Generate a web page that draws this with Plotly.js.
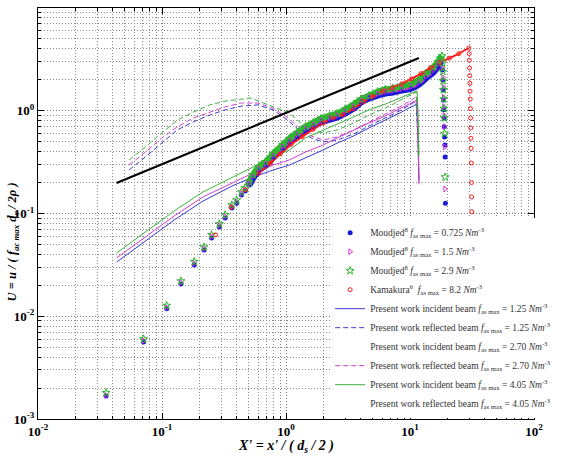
<!DOCTYPE html>
<html><head><meta charset="utf-8">
<script src="https://cdn.plot.ly/plotly-3.0.1.min.js"></script>
<style>html,body{margin:0;padding:0;background:#fff}#chart{width:564px;height:457px}</style>
</head><body><div id="chart"></div>
<script>
// ---- data ----
const slopeX = [0.043, 11.8];
const slopeY = [0.198, 3.26];

const moudjed0725X = [0.0354,0.071,0.109,0.142,0.182,0.218,0.251,0.29,0.323,0.366,0.40,0.437,0.469,0.504,0.541,0.603,0.683,0.787,0.94,1.064,1.23,1.44,1.66,1.92,2.25,2.59,2.99,3.51,4.05,4.67,5.48,6.32,7.29,8.55,10.2,11.8,13.4,15.4,16.8,17.8,18.2,18.4,18.5,18.6,18.7,18.8,18.9,19.0,19.1,19.2,19.3];
const moudjed0725Y = [0.00167,0.0056,0.0118,0.0206,0.0315,0.0441,0.0578,0.074,0.0904,0.113,0.126,0.151,0.166,0.189,0.222,0.265,0.296,0.355,0.434,0.497,0.568,0.65,0.711,0.78,0.83,0.87,0.95,1.06,1.22,1.33,1.42,1.49,1.52,1.59,1.66,1.82,2.08,2.38,2.73,2.92,2.49,1.99,1.59,1.27,1.02,0.85,0.70,0.556,0.464,0.355,0.126];

const moudjed15X = [0.0354,0.071,0.109,0.142,0.182,0.218,0.251,0.29,0.323,0.366,0.40,0.437,0.469,0.504,0.541,0.603,0.683,0.787,0.94,1.064,1.23,1.44,1.66,1.92,2.25,2.59,2.99,3.51,4.05,4.67,5.48,6.32,7.29,8.55,10.2,11.8,13.4,15.4,16.8,17.9,18.3,18.5,18.6,18.7,18.8,18.9,19.0,19.1,19.2];
const moudjed15Y = [0.0017,0.0058,0.0122,0.0213,0.0327,0.0457,0.060,0.077,0.094,0.117,0.131,0.157,0.172,0.196,0.23,0.275,0.307,0.368,0.45,0.515,0.59,0.675,0.74,0.81,0.86,0.905,0.99,1.10,1.27,1.38,1.47,1.55,1.58,1.65,1.73,1.9,2.17,2.5,2.85,3.1,2.6,2.1,1.7,1.35,1.1,0.9,0.7,0.444,0.173];

const moudjed29X = [0.0354,0.071,0.109,0.142,0.182,0.218,0.251,0.29,0.323,0.366,0.40,0.437,0.469,0.504,0.541,0.603,0.683,0.787,0.94,1.064,1.23,1.44,1.66,1.92,2.25,2.59,2.99,3.51,4.05,4.67,5.48,6.32,7.29,8.55,10.2,11.8,13.4,15.4,16.8,17.6,18.1,18.3,18.4,18.5,18.6,18.7,18.8,18.9,19.0,19.2];
const moudjed29Y = [0.0018,0.0060,0.0127,0.022,0.034,0.047,0.062,0.079,0.097,0.121,0.135,0.162,0.178,0.203,0.238,0.285,0.318,0.382,0.467,0.535,0.612,0.70,0.766,0.84,0.895,0.94,1.03,1.15,1.30,1.40,1.53,1.61,1.65,1.73,1.82,2.0,2.3,2.65,3.0,3.25,3.41,2.9,2.4,1.95,1.6,1.3,1.05,0.85,0.60,0.226];

const kamakuraX = [0.27,0.36,0.47,0.6,0.75,0.9,1.1,1.35,1.65,2.0,2.4,2.9,3.5,4.2,5.0,6.0,7.2,8.6,10.3,12.3,14.6,17.4,20.8,24.8,29.8,30.0,30.1,30.2,30.3,30.4,30.5,30.6,30.7,30.8,30.9,31.0,31.1,31.2,31.3,31.4,31.5];
const kamakuraY = [0.062,0.115,0.17,0.245,0.31,0.38,0.47,0.56,0.66,0.76,0.85,0.92,1.05,1.22,1.38,1.55,1.68,1.83,2.05,2.3,2.62,2.95,3.25,3.6,4.08,3.6,3.1,2.6,2.2,1.85,1.55,1.3,1.05,0.85,0.68,0.54,0.43,0.31,0.2,0.145,0.104];

const incident125X = [0.0431,0.0736,0.1255,0.214,0.366,0.522,0.787,1.064,1.44,1.99,2.59,3.51,4.67,6.32,8.55,10.2,11.4,11.6,11.8];
const incident125Y = [0.0337,0.054,0.0865,0.132,0.185,0.222,0.265,0.296,0.347,0.415,0.485,0.568,0.68,0.81,0.97,1.09,1.16,0.58,0.212];
const reflected125X = [0.0543,0.0736,0.0995,0.1324,0.179,0.243,0.323,0.437,0.592,0.787,1.03,1.27,1.60,1.99,2.59,3.51,4.67,6.32,8.55,10.2,11.2,11.6,11.8];
const reflected125Y = [0.265,0.355,0.485,0.65,0.78,0.91,1.02,1.11,1.14,1.02,0.81,0.65,0.543,0.497,0.519,0.594,0.711,0.85,1.02,1.16,1.24,0.519,0.222];

const incident270X = [0.0431,0.0736,0.1255,0.214,0.366,0.522,0.787,1.064,1.44,1.99,2.59,3.51,4.67,6.32,8.55,10.2,11.4,11.6,11.8];
const incident270Y = [0.037,0.059,0.0946,0.145,0.198,0.242,0.296,0.332,0.397,0.464,0.543,0.65,0.76,0.89,1.06,1.19,1.27,0.65,0.203];
const reflected270X = [0.0543,0.0736,0.0995,0.1324,0.179,0.243,0.323,0.437,0.592,0.787,1.01,1.27,1.60,1.99,2.59,3.51,4.67,6.32,8.55,10.2,11.2,11.6,11.8];
const reflected270Y = [0.296,0.397,0.543,0.695,0.85,0.97,1.09,1.19,1.19,1.06,0.87,0.695,0.568,0.519,0.556,0.65,0.78,0.93,1.11,1.27,1.36,0.519,0.189];

const incident405X = [0.0431,0.0736,0.1255,0.214,0.366,0.522,0.787,1.064,1.44,1.99,2.59,3.51,4.67,6.32,8.55,10.2,11.4,11.6,11.75,11.8];
const incident405Y = [0.0413,0.066,0.106,0.162,0.222,0.277,0.355,0.415,0.543,0.65,0.743,0.87,1.02,1.16,1.36,1.49,1.56,1.02,0.65,0.355];
const reflected405X = [0.0543,0.0736,0.0995,0.1324,0.179,0.243,0.323,0.437,0.522,0.658,0.846,1.064,1.34,1.66,1.99,2.59,3.51,4.67,6.32,8.55,10.2,11.2,11.6,11.8];
const reflected405Y = [0.332,0.444,0.607,0.81,0.97,1.14,1.24,1.30,1.33,1.19,1.06,0.95,0.743,0.65,0.607,0.65,0.76,0.91,1.06,1.27,1.42,1.52,0.81,0.371];

const xTickVals = [0.01, 0.1, 1, 10, 100];
const xTickText = ['10<sup>-2</sup>','10<sup>-1</sup>','10<sup>0</sup>','10<sup>1</sup>','10<sup>2</sup>'];
const yTickVals = [0.001, 0.01, 0.1, 1, 10];
const yTickText = ['10<sup>-3</sup>','10<sup>-2</sup>','10<sup>-1</sup>','10<sup>0</sup>','10<sup>1</sup>'];

const legendNames = [
  'Moudjed<sup>8</sup> <i>f</i><sub>as max</sub> = 0.725 <i>Nm</i><sup>-3</sup>',
  'Moudjed<sup>8</sup> <i>f</i><sub>as max</sub> = 1.5 <i>Nm</i><sup>-3</sup>',
  'Moudjed<sup>8</sup> <i>f</i><sub>as max</sub> = 2.9 <i>Nm</i><sup>-3</sup>',
  'Kamakura<sup>6</sup>  <i>f</i><sub>as max</sub> = 8.2 <i>Nm</i><sup>-3</sup>',
  'Present work incident beam <i>f</i><sub>as max</sub> = 1.25 <i>Nm</i><sup>-3</sup>',
  'Present work reflected beam <i>f</i><sub>as max</sub> = 1.25 <i>Nm</i><sup>-3</sup>',
  'Present work incident beam <i>f</i><sub>as max</sub> = 2.70 <i>Nm</i><sup>-3</sup>',
  'Present work reflected beam <i>f</i><sub>as max</sub> = 2.70 <i>Nm</i><sup>-3</sup>',
  'Present work incident beam <i>f</i><sub>as max</sub> = 4.05 <i>Nm</i><sup>-3</sup>',
  'Present work reflected beam <i>f</i><sub>as max</sub> = 4.05 <i>Nm</i><sup>-3</sup>'
];

// ---- styling ----
const BLUE = '#1a1ad6', MAG = '#d633d6', GREEN = '#2db82d', RED = '#ff1a1a';
const LBLUE = '#3a3ad0', LMAG = '#d040d0', LGREEN = '#40b040';
const SERIF = 'Liberation Serif, Times New Roman, serif';

function bandPart(xs, ys) {
  let k = 0; ys.forEach((v, i) => { if (v > ys[k]) k = i; });
  const s = xs.findIndex(v => v >= 0.5);
  return {x: xs.slice(s, k + 1), y: ys.slice(s, k + 1)};
}

const traces = [];
function line(x, y, color, dash, name, rank, show) {
  traces.push({x, y, type:'scatter', mode:'lines', name, legendrank: rank, showlegend: show,
    line:{color, width:1, dash: dash ? '5px,3px' : 'solid'}, hoverinfo:'skip'});
}
line(incident125X, incident125Y, LBLUE, false, legendNames[4], 5, true);
line(reflected125X, reflected125Y, LBLUE, true, legendNames[5], 6, true);
line(incident270X, incident270Y, LMAG, false, legendNames[6], 7, false);
line(reflected270X, reflected270Y, LMAG, true, legendNames[7], 8, true);
line(incident405X, incident405Y, LGREEN, false, legendNames[8], 9, true);
line(reflected405X, reflected405Y, LGREEN, true, legendNames[9], 10, false);
// legend entries drawn without a sample line, as in the reference
traces.push({x:[null], y:[null], type:'scatter', mode:'lines', name: legendNames[6], legendrank:7,
  line:{color:'rgba(0,0,0,0)', width:1}});
traces.push({x:[null], y:[null], type:'scatter', mode:'lines', name: legendNames[9], legendrank:10,
  line:{color:'rgba(0,0,0,0)', width:1}});

traces.push({x: slopeX, y: slopeY, type:'scatter', mode:'lines', showlegend:false,
  line:{color:'#000', width:2}});

const bands = [
  [moudjed0725X, moudjed0725Y, BLUE, 7],
  [moudjed15X, moudjed15Y, MAG, 5],
  [moudjed29X, moudjed29Y, GREEN, 6],
];
bands.forEach(([xs, ys, c, w]) => {
  const b = bandPart(xs, ys);
  traces.push({x: b.x, y: b.y, type:'scatter', mode:'lines', showlegend:false,
    line:{color:c, width:w, shape:'spline'}, hoverinfo:'skip'});
});
const kb = bandPart(kamakuraX, kamakuraY);
traces.push({x: kb.x, y: kb.y, type:'scatter', mode:'lines', showlegend:false,
  line:{color:RED, width:2, shape:'spline'}, hoverinfo:'skip'});

traces.push({x: moudjed0725X, y: moudjed0725Y, type:'scatter', mode:'markers', name: legendNames[0], legendrank:1,
  marker:{symbol:'circle', size:5, color:BLUE}});
traces.push({x: moudjed15X, y: moudjed15Y, type:'scatter', mode:'markers', name: legendNames[1], legendrank:2,
  marker:{symbol:'triangle-right-open', size:5, color:MAG, line:{width:1}}});
traces.push({x: moudjed29X, y: moudjed29Y, type:'scatter', mode:'markers', name: legendNames[2], legendrank:3,
  marker:{symbol:'star-open', size:6, color:GREEN, line:{width:1}}});
traces.push({x: kamakuraX, y: kamakuraY, type:'scatter', mode:'markers', name: legendNames[3], legendrank:4,
  marker:{symbol:'circle-open', size:4, color:RED, line:{width:1}}});

function minorVals(lo, hi) {
  const v = [];
  for (let e = lo; e < hi; e++) for (let m = 2; m <= 9; m++) v.push(m * Math.pow(10, e));
  return v;
}

const tickFont = {family: SERIF, size:13, weight:'bold', color:'#000'};
function axis(vals, text, range, minor) {
  return {type:'log', range, tickmode:'array', tickvals: vals, ticktext: text,
    showline:true, linecolor:'#000', linewidth:1, mirror:'allticks',
    ticks:'inside', ticklen:6, tickcolor:'#000', tickwidth:1,
    showgrid:true, gridcolor:'#7a7a7a', griddash:'1px,2px', gridwidth:1, zeroline:false,
    tickfont: tickFont, automargin:false,
    minor:{tickmode:'array', tickvals: minor, ticks:'inside', ticklen:3, tickcolor:'#000',
      showgrid:true, gridcolor:'#8a8a8a', griddash:'1px,2px', gridwidth:1}};
}

const layout = {
  width:564, height:457,
  margin:{l:38, r:9, t:8, b:38},
  paper_bgcolor:'#fff', plot_bgcolor:'#fff',
  showlegend:true,
  xaxis: axis(xTickVals, xTickText, [-2, 2], minorVals(-2, 2)),
  yaxis: axis(yTickVals, yTickText, [-3, 1], minorVals(-3, 1)),
  legend:{x:0.589, xanchor:'left', y:0.002, yanchor:'bottom', bgcolor:'#fff', borderwidth:0,
    font:{family: SERIF, size:9.5, color:'#333'},
    traceorder:'normal', itemwidth:30},
  annotations:[
    {text:"<i>X' = x' / ( d<sub>s</sub> / 2 )</i>", xref:'paper', yref:'paper', x:0.5, y:-0.066,
     xanchor:'center', yanchor:'middle', showarrow:false,
     font:{family: SERIF, size:14, weight:'bold', color:'#000'}},
    {text:"<i>U = u / ( f<sub>ac max</sub> d<sub>s</sub> / 2ρ )</i>", xref:'paper', yref:'paper', x:-0.05, y:0.43,
     xanchor:'center', yanchor:'middle', textangle:-90, showarrow:false,
     font:{family: SERIF, size:12.5, weight:'bold', color:'#000'}}
  ]
};

Plotly.newPlot('chart', traces, layout, {displayModeBar:false, staticPlot:true});
</script></body></html>
